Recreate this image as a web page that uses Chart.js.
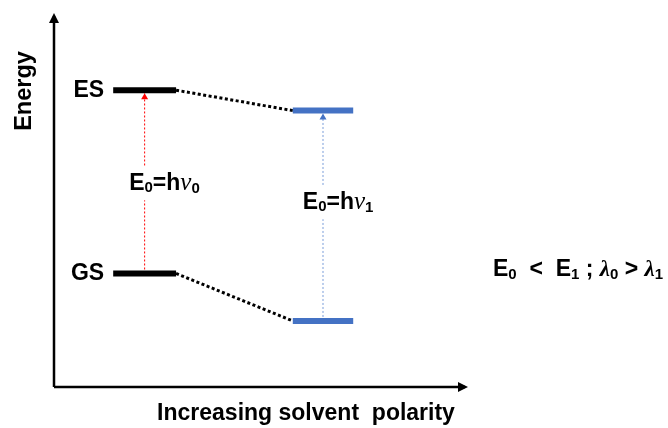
<!DOCTYPE html>
<html>
<head>
<meta charset="utf-8">
<script src="https://cdn.jsdelivr.net/npm/chart.js@4/dist/chart.umd.min.js"></script>
<style>
  html, body { margin: 0; padding: 0; background: #fff; }
  #wrap { width: 668px; height: 428px; }
</style>
</head>
<body>
<div id="wrap"><canvas id="diagram"></canvas></div>
<script>
// left = low polarity solvent, right = high polarity solvent
var solvents = ['low polarity', 'high polarity'];
var levelStart = [1.44, 5.81];
var levelEnd = [2.97, 7.28];
var excitedState = [8.0, 7.45];
var groundState = [3.06, 1.78];
var axisMax = 10;
var levelColours = ['#000000', '#4472C4'];
var transitionColours = ['#FF0000', '#7B9DDA'];

var font = '"Liberation Sans", Arial, sans-serif';
var serif = '"Liberation Serif", "Times New Roman", serif';

function seg(points, colour, width, dash, arrow) {
  return {
    data: points,
    borderColor: colour,
    borderWidth: width,
    borderDash: dash || [],
    pointRadius: 0,
    fill: false,
    tension: 0,
    clip: false,
    arrow: arrow || null
  };
}

var datasets = [];
// energy levels (first so they are drawn on top)
for (var i = 0; i < solvents.length; i++) {
  datasets.push(seg([{x: levelStart[i], y: excitedState[i]}, {x: levelEnd[i], y: excitedState[i]}], levelColours[i], 6));
  datasets.push(seg([{x: levelStart[i], y: groundState[i]}, {x: levelEnd[i], y: groundState[i]}], levelColours[i], 6));
}
// dotted connectors between the solvents
datasets.push(seg([{x: levelEnd[0], y: excitedState[0]}, {x: levelStart[1], y: excitedState[1]}], '#000', 3, [3, 2.5]));
datasets.push(seg([{x: levelEnd[0], y: groundState[0]}, {x: levelStart[1], y: groundState[1]}], '#000', 3, [3, 2.5]));
// absorption arrows GS -> ES
for (var j = 0; j < solvents.length; j++) {
  var mid = (levelStart[j] + levelEnd[j]) / 2;
  datasets.push(seg([{x: mid, y: groundState[j]}, {x: mid, y: excitedState[j]}], transitionColours[j], 1, [2, 2],
    {len: 6, width: 7, offset: -3, colour: j === 0 ? '#FF0000' : '#4472C4'}));
}
// axes
datasets.push(seg([{x: 0, y: 0}, {x: 0, y: axisMax}], '#000', 2.5, null, {len: 10, width: 10, offset: 3, colour: '#000'}));
datasets.push(seg([{x: 0, y: 0}, {x: axisMax, y: 0}], '#000', 2.5, null, {len: 10, width: 10, offset: 3, colour: '#000'}));

function richText(ctx, parts, x, y, align, bg) {
  var w = 0;
  parts.forEach(function(p) { ctx.font = p[1]; w += ctx.measureText(p[0]).width; });
  var cx = align === 'center' ? x - w / 2 : (align === 'right' ? x - w : x);
  if (bg) {
    ctx.fillStyle = '#fff';
    ctx.fillRect(cx - 2, y - 17, w + 4, 34);
  }
  ctx.fillStyle = '#000';
  ctx.textBaseline = 'middle';
  ctx.textAlign = 'left';
  parts.forEach(function(p) {
    ctx.font = p[1];
    ctx.fillText(p[0], cx, y + (p[2] || 0));
    cx += ctx.measureText(p[0]).width;
  });
}

var big = 'bold 23px ' + font;
var sub = 'bold 15px ' + font;
var nu = 'italic 25px ' + serif;
var lam = 'bold italic 23px ' + serif;

var annotations = {
  id: 'annotations',
  afterDatasetsDraw: function(chart) {
    var ctx = chart.ctx, xs = chart.scales.x, ys = chart.scales.y, area = chart.chartArea;
    ctx.save();
    // arrow heads
    chart.data.datasets.forEach(function(ds, i) {
      if (!ds.arrow) return;
      var pts = chart.getDatasetMeta(i).data;
      var a = pts[pts.length - 2], b = pts[pts.length - 1];
      var ang = Math.atan2(b.y - a.y, b.x - a.x);
      ctx.save();
      ctx.translate(b.x + Math.cos(ang) * ds.arrow.offset, b.y + Math.sin(ang) * ds.arrow.offset);
      ctx.rotate(ang);
      ctx.beginPath();
      ctx.moveTo(0, 0);
      ctx.lineTo(-ds.arrow.len, -ds.arrow.width / 2);
      ctx.lineTo(-ds.arrow.len, ds.arrow.width / 2);
      ctx.closePath();
      ctx.fillStyle = ds.arrow.colour;
      ctx.fill();
      ctx.restore();
    });

    // state names
    ctx.fillStyle = '#000';
    ctx.font = 'bold 23px ' + font;
    ctx.textAlign = 'right';
    ctx.textBaseline = 'middle';
    ctx.fillText('ES', xs.getPixelForValue(levelStart[0]) - 9, ys.getPixelForValue(excitedState[0]));
    ctx.fillText('GS', xs.getPixelForValue(levelStart[0]) - 9, ys.getPixelForValue(groundState[0]));

    // transition energies
    richText(ctx, [['E', big], ['0', sub, 5], ['=h', big], ['\u03bd', nu], ['0', sub, 6]],
      xs.getPixelForValue(levelStart[0]) + 16, ys.getPixelForValue(5.49), 'left', true);
    richText(ctx, [['E', big], ['0', sub, 5], ['=h', big], ['\u03bd', nu], ['1', sub, 6]],
      xs.getPixelForValue(levelStart[1]) + 10, ys.getPixelForValue(4.98), 'left', true);

    // comparison note
    richText(ctx, [['E', big], ['0', sub, 5], ['  <  ', big], ['E', big], ['1', sub, 5], [' ; ', big],
      ['\u03bb', lam], ['0', sub, 5], [' > ', big], ['\u03bb', lam], ['1', sub, 5]],
      area.right + 28, 270, 'left', false);

    // axis titles
    ctx.fillStyle = '#000';
    ctx.font = 'bold 23px ' + font;
    ctx.textAlign = 'center';
    ctx.textBaseline = 'middle';
    ctx.fillText('Increasing solvent  polarity', 306, 414);
    ctx.translate(25, 91);
    ctx.rotate(-Math.PI / 2);
    ctx.font = 'bold 23.5px ' + font;
    ctx.fillText('Energy', 0, 0);
    ctx.restore();
  }
};

new Chart(document.getElementById('diagram').getContext('2d'), {
  type: 'line',
  data: { datasets: datasets },
  options: {
    responsive: true,
    maintainAspectRatio: false,
    animation: false,
    layout: { padding: { left: 54, top: 16, right: 203, bottom: 41 } },
    scales: {
      x: { type: 'linear', min: 0, max: axisMax, display: false },
      y: { type: 'linear', min: 0, max: axisMax, display: false }
    },
    plugins: { legend: { display: false }, tooltip: { enabled: false } }
  },
  plugins: [annotations]
});
</script>
</body>
</html>
